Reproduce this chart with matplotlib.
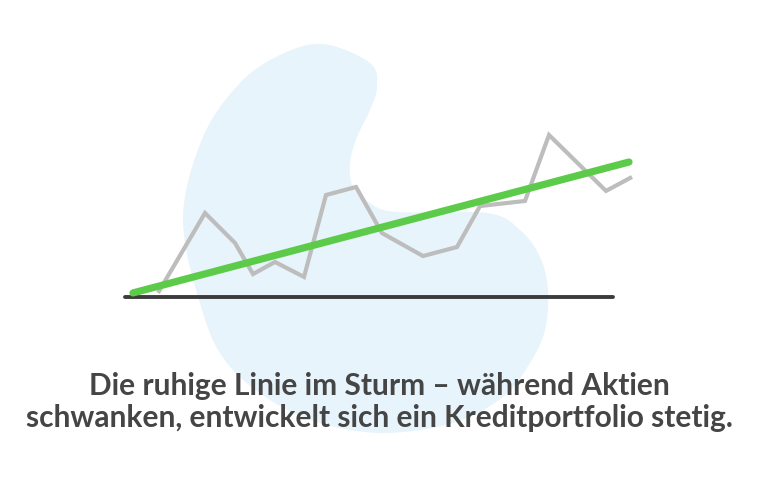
import numpy as np
import matplotlib.pyplot as plt
from matplotlib.patches import Polygon

# Aktienkurs (grau), zeitachse + werte
aktien_x = [3.3, 8.0, 11.0, 12.8, 15.0, 17.9, 20.1, 23.1, 25.7, 29.8, 33.2, 35.5, 40.0, 42.4, 48.1, 50.7]
aktien_y = [2.4, 49.4, 31.8, 13.5, 20.6, 11.8, 60.0, 64.7, 37.6, 24.1, 29.4, 53.5, 56.5, 95.3, 62.4, 70.6]
# Kreditportfolio (gruen)
kredit_x = [0.8, 50.4]
kredit_y = [2.4, 79.4]
# Nulllinie
basis_x = [0.0, 48.8]
basis_y = [0.0, 0.0]

titel = "Die ruhige Linie im Sturm – während Aktien\nschwanken, entwickelt sich ein Kreditportfolio stetig."

# umriss vom hintergrund-blob (pixel)
blob = [(323, 44), (370, 63), (377, 87), (370, 110), (357, 137), (350, 163), (353, 187),
        (370, 203), (397, 212), (487, 213), (520, 230), (540, 257), (548, 290), (545, 330),
        (530, 363), (503, 397), (453, 423), (383, 433), (320, 423), (270, 400), (227, 363),
        (203, 313), (183, 220), (203, 137), (240, 83), (280, 55)]


def catmull(pts, n=30):
    p = np.array(pts, dtype=float)
    out = []
    m = len(p)
    for i in range(m):
        p0, p1, p2, p3 = p[i - 1], p[i], p[(i + 1) % m], p[(i + 2) % m]
        for t in np.linspace(0, 1, n, endpoint=False):
            t2, t3 = t * t, t * t * t
            out.append(0.5 * ((2 * p1) + (-p0 + p2) * t + (2 * p0 - 5 * p1 + 4 * p2 - p3) * t2
                              + (-p0 + 3 * p1 - 3 * p2 + p3) * t3))
    return np.array(out)


W, H = 762, 479
fig = plt.figure(figsize=(W / 100, H / 100), dpi=100)
bg = fig.add_axes([0, 0, 1, 1])
bg.set_xlim(0, W)
bg.set_ylim(H, 0)
bg.axis("off")
bg.add_patch(Polygon(catmull(blob), closed=True, facecolor="#E8F4FB", edgecolor="none"))
bg.text(379, 402, titel, ha="center", va="center", fontsize=21.5, fontweight="bold",
        family="Lato", color="#454545", linespacing=1.18)

# chart achse: x 125..635 px, y basis bei 297 px, 1.7 px pro einheit
ax = fig.add_axes([125 / W, (H - 297) / H, 510 / W, 170 / H])
ax.set_xlim(0, 51)
ax.set_ylim(0, 100)
ax.axis("off")
ax.patch.set_alpha(0)
ax.plot(basis_x, basis_y, color="#3C3C3C", lw=2.8, solid_capstyle="round", clip_on=False)
ax.plot(aktien_x, aktien_y, color="#BDBDBD", lw=3.0, solid_joinstyle="miter",
        solid_capstyle="butt", clip_on=False)
ax.plot(kredit_x, kredit_y, color="#5DCB4A", lw=5.2, solid_capstyle="round", clip_on=False)

fig.savefig("out.png", dpi=100)
